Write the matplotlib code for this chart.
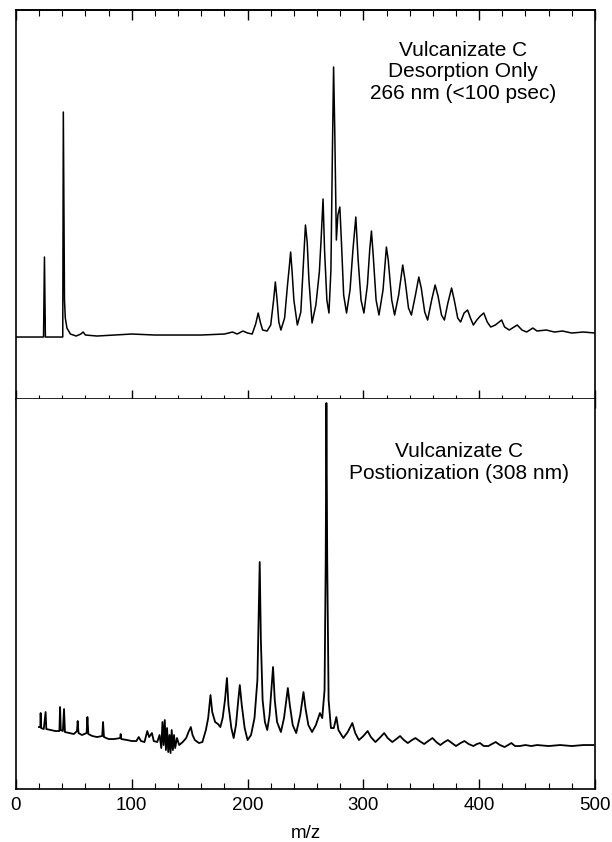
import matplotlib
matplotlib.use("Agg")
import matplotlib.pyplot as plt
from matplotlib.ticker import MultipleLocator

plt.rcParams['font.family'] = ['Liberation Sans', 'DejaVu Sans']

# top spectrum: desorption only (m/z, intensity in arbitrary units)
top_mz = [0, 23.8, 24.6, 25.4, 40.4, 40.9, 41.4, 41.9, 42.6, 44, 47, 52, 56, 58, 60,
          70, 85, 100, 120, 140, 160, 180, 187, 191, 196, 200, 204, 207, 209.2, 211,
          213, 216.9, 220, 222.5, 224, 225.5, 227, 228.8, 232, 234.5, 236.2, 237.2,
          238.5, 240, 243, 246, 248.3, 250, 251.5, 253, 255.7, 259, 262, 263.5, 265.2,
          266.5, 268.5, 270.3, 272, 273.3, 274.3, 275.3, 276.7, 278, 279.7, 281, 283,
          285.5, 288.5, 291, 293.5, 295.5, 298, 300.5, 303.5, 305.5, 307, 308.5, 311,
          313.5, 317, 319.9, 321.5, 324.5, 327, 330.5, 334, 336, 339, 341.5, 345,
          347.9, 350, 353, 355.5, 359, 362, 364.5, 367.5, 370, 373, 376.2, 378.5,
          381.5, 384, 387, 390, 392.5, 395, 398, 401, 404, 407, 410, 414, 419.4, 422,
          426, 432.9, 437, 441, 446.4, 450, 458, 465, 472, 480, 490, 500]
top_int = [-2, -2, 78, -2, -2, 223, 135, 35, 17, 7, 1, -1, 1, 3, 0,
           -1, 0, 1, 0, 0, 0, 1, 3, 1, 4, 2, 1, 11, 22, 13,
           5, 4, 10, 35, 53, 35, 13, 5, 17, 50, 70, 83,
           63, 35, 10, 23, 73, 110, 93, 55, 12, 30, 63, 95, 136,
           85, 35, 22, 65, 185, 268, 205, 95, 120, 128, 95, 40,
           22, 45, 85, 118, 75, 35, 22, 50, 85, 104, 80, 35,
           20, 45, 88, 75, 35, 20, 40, 70, 55, 27, 20, 40,
           58, 47, 23, 15, 35, 50, 39, 20, 15, 32, 47, 35,
           17, 13, 22, 25, 17, 10, 15, 19, 22, 13, 8, 10, 15, 8,
           5, 10, 5, 3, 7, 4, 5, 3, 4, 2, 3, 2]

# bottom spectrum: postionization 308 nm
bot_mz = [19.8, 21.0, 21.3, 21.7, 24, 25.6, 26.2, 30, 34, 37.5, 38.1, 38.7, 40.5, 41.5,
          42.3, 46, 50, 52.7, 53.3, 54, 57, 61, 61.7, 62.5, 66, 70, 74.5, 75.2, 76, 80,
          85, 90, 90.4, 91, 96, 100, 104, 106, 108, 111, 113.4, 115, 117.4, 119, 122,
          124, 125.5, 126.5, 127.5, 128.5, 129.5, 130.5, 131.5, 132.6, 133.5, 134.5,
          135.5, 136.5, 137.5, 139, 141, 144, 147, 149, 151, 152.5, 154.5, 158, 161,
          164, 166, 168, 169.5, 172, 174.5, 176.5, 178.5, 180.5, 182.2, 183.5, 186,
          188, 190, 192, 193.3, 195, 197.5, 200, 203, 206, 208.5, 210.5, 211.5, 213,
          215, 217, 219, 222, 223.5, 225.5, 228.8, 231.5, 234.8, 236.5, 239, 242,
          245.5, 248.3, 250, 252.5, 255.7, 259, 262.5, 264.5, 266.5, 267.5, 268.1,
          268.8, 270, 272, 274.5, 276.7, 278.5, 282.7, 286.5, 290.5, 293, 296.2, 300,
          303.7, 306.5, 310.4, 314, 318, 321, 325, 328.5, 331.7, 335, 338.4, 342, 345,
          348.5, 352.5, 356, 359.7, 363, 366.5, 370, 373, 376.5, 380, 384, 387.3, 391,
          395, 398, 400.8, 404, 408, 411, 414.3, 418, 422, 425, 427.8, 431, 435, 440,
          445, 450, 460, 470, 480, 490, 498.7]
bot_int = [18, 18, 32, 17, 16, 33, 16, 15, 14, 14, 38, 15, 14, 36,
           13, 12, 11, 14, 24, 12, 10, 12, 28, 11, 9, 8, 9, 23, 8, 6,
           6, 7, 11, 6, 5, 4, 4, 8, 4, 3, 14, 8, 12, 4, 3,
           10, -3, 23, 0, 25, -5, 17, -7, 10, -8, 15,
           -5, 10, -3, 7, 0, 3, 7, 13, 18, 10, 5, 2, 3,
           15, 27, 50, 33, 23, 21, 18, 27, 45, 67, 40, 17,
           7, 20, 45, 60, 40, 17, 5, 10, 27, 65, 183, 105, 45,
           23, 15, 30, 78, 45, 23, 13, 27, 57, 40, 20, 12,
           30, 53, 37, 20, 13, 20, 32, 27, 55, 185, 342,
           185, 45, 17, 17, 28, 15, 7, 13, 22, 12, 5, 9,
           14, 8, 3, 7, 12, 7, 3, 6, 9, 5, 2, 5, 7,
           4, 1, 4, 7, 3, 0, 3, 5, 2, -1, 2, 4, 1,
           -1, 1, 2, -1, -1, 1, 3, 0, -2, 0, 2, -1, -1, 0,
           -1, 0, -1, 0, -1, 0, 0]

top_label = "Vulcanizate C\nDesorption Only\n266 nm (<100 psec)"
bot_label = "Vulcanizate C\nPostionization (308 nm)"

fig = plt.figure(figsize=(6.12, 8.42), dpi=100)
ax1 = fig.add_axes([0.0261, 0.5261, 0.946, 0.462])
ax2 = fig.add_axes([0.0261, 0.0629, 0.946, 0.4632])

ax1.plot(top_mz, top_int, color='black', lw=1.1)
ax2.plot(bot_mz, bot_int, color='black', lw=1.3)

ax1.set_ylim(-64, 325)
ax2.set_ylim(-44, 346)

for ax in (ax1, ax2):
    ax.set_xlim(0, 500)
    ax.xaxis.set_major_locator(MultipleLocator(100))
    ax.xaxis.set_minor_locator(MultipleLocator(20))
    ax.set_yticks([])
    for sp in ax.spines.values():
        sp.set_linewidth(1.2)

# divider ticks cross the line, top frame ticks point inwards
ax1.tick_params(axis='x', which='major', direction='inout', length=13, width=1.0,
                labelbottom=False, top=False)
ax1.tick_params(axis='x', which='minor', direction='inout', length=6, width=0.8)
sec = ax1.secondary_xaxis('top')
sec.xaxis.set_major_locator(MultipleLocator(100))
sec.xaxis.set_minor_locator(MultipleLocator(20))
sec.tick_params(axis='x', which='major', direction='in', length=7, width=1.0, labeltop=False)
sec.tick_params(axis='x', which='minor', direction='in', length=4, width=0.8)
sec.spines['top'].set_linewidth(1.2)

ax2.spines['top'].set_visible(False)
ax2.tick_params(axis='x', which='major', direction='in', length=7, width=1.0,
                labelsize=13.5, pad=6)
ax2.tick_params(axis='x', which='minor', direction='in', length=4, width=0.8)
ax2.set_xlabel("m/z", fontsize=13.5, labelpad=8)

ax1.text(0.772, 0.841, top_label, transform=ax1.transAxes, ha='center', va='center',
         fontsize=15, linespacing=1.15)
ax2.text(0.765, 0.837, bot_label, transform=ax2.transAxes, ha='center', va='center',
         fontsize=15, linespacing=1.15)

fig.savefig("out.png", dpi=100)
